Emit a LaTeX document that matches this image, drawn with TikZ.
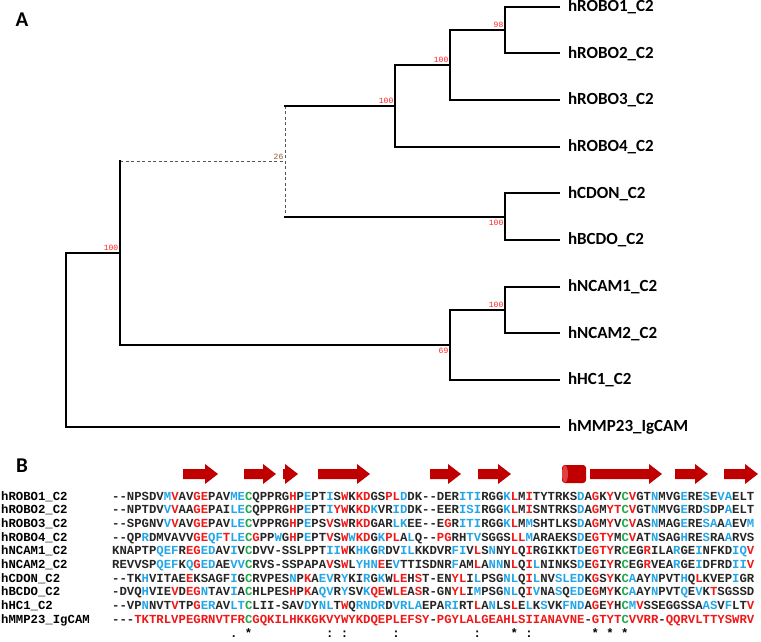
\documentclass[tikz,border=0pt]{standalone}
\usepackage{fontspec}
\setmonofont{Liberation Mono}
\newfontfamily\treefont{Carlito}
\usetikzlibrary{positioning}
\definecolor{SeqRed}{HTML}{F01818}
\definecolor{SeqBlue}{HTML}{22A6E8}
\definecolor{SeqGreen}{HTML}{1FAA4A}
\definecolor{SeqInk}{HTML}{262626}
\definecolor{Helix}{HTML}{C00000}
\definecolor{HelixCap}{HTML}{E04040}
\definecolor{Boot}{HTML}{FF2020}
\definecolor{Weak}{HTML}{8C5A2E}
\definecolor{DashGray}{HTML}{555555}
\newcommand\xR[1]{\textcolor{SeqRed}{#1}}
\newcommand\xB[1]{\textcolor{SeqBlue}{#1}}
\newcommand\xG[1]{\textcolor{SeqGreen}{#1}}

\begin{document}
\begin{tikzpicture}[x=1pt,y=-1pt,
    branch/.style={line width=1.8pt,line cap=rect},
    weak/.style={line width=1pt,draw=DashGray,dash pattern=on 3pt off 2.5pt},
    leaf/.style={anchor=west,inner xsep=9pt,inner ysep=0pt,outer sep=0pt,
      font=\treefont\bfseries\fontsize{17}{18}\selectfont},
    boot/.style={font=\ttfamily\fontsize{8}{8}\selectfont,text=Boot,inner sep=0.5pt},
    panel/.style={font=\treefont\bfseries\fontsize{21}{21}\selectfont},
    rowname/.style={anchor=base west,inner sep=0pt,
      font=\ttfamily\bfseries\fontsize{12.3}{13}\selectfont},
    seqline/.style={anchor=base west,inner sep=0pt,text=SeqInk,
      font=\ttfamily\bfseries\fontsize{12.3}{13}\selectfont},
    cons/.style={anchor=base,inner sep=0pt,
      font=\ttfamily\bfseries\fontsize{12.3}{13}\selectfont},
    sheet/.style={fill=Helix}
  ]
  \useasboundingbox (0,0) rectangle (761,641);

  % panel A: tree
  \node[panel] (pa) at (22,20) {A};
  \foreach \name/\y/\txt in {robo1/6.7/hROBO1\_C2,robo2/53.3/hROBO2\_C2,
      robo3/100/hROBO3\_C2,robo4/146.7/hROBO4\_C2,cdon/193.3/hCDON\_C2,
      bcdo/240/hBCDO\_C2,ncam1/286.7/hNCAM1\_C2,ncam2/333.3/hNCAM2\_C2,
      hc1/380/hHC1\_C2,mmp23/426.7/hMMP23\_IgCAM}
    \node[leaf] (\name) at (559,\y) {\txt};

  \coordinate (n12) at (505,30);
  \coordinate (n123) at (450,65);
  \coordinate (n1234) at (395,105.8);
  \coordinate (ncb) at (505,216.7);
  \coordinate (n26) at (285,161.3);
  \coordinate (nnc) at (505,310);
  \coordinate (nnh) at (450,345);
  \coordinate (na) at (120,253.2);
  \coordinate (root) at (66,340);

  \draw[branch] (n12) |- (robo1.west);
  \draw[branch] (n12) |- (robo2.west);
  \draw[branch] (n123) |- (n12);
  \draw[branch] (n123) |- (robo3.west);
  \draw[branch] (n1234) |- (n123);
  \draw[branch] (n1234) |- (robo4.west);
  \draw[branch] (ncb) |- (cdon.west);
  \draw[branch] (ncb) |- (bcdo.west);
  \draw[weak] (n1234 -| n26) -- (ncb -| n26);
  \draw[branch] (n1234 -| n26) -- (n1234);
  \draw[branch] (ncb -| n26) -- (ncb);
  \draw[branch] (nnc) |- (ncam1.west);
  \draw[branch] (nnc) |- (ncam2.west);
  \draw[branch] (nnh) |- (nnc);
  \draw[branch] (nnh) |- (hc1.west);
  \draw[weak] (n26 -| na) -- (n26);
  \draw[branch] (n26 -| na) -- (nnh -| na);
  \draw[branch] (nnh -| na) -- (nnh);
  \draw[branch] (root) |- (na);
  \draw[branch] (root) |- (mmp23.west);

  % bootstrap values
  \node[boot,anchor=south east] (b12) at ([shift={(-1,-1.5)}]n12) {98};
  \node[boot,anchor=south east] (b123) at ([shift={(-1,-1.5)}]n123) {100};
  \node[boot,anchor=south east] (b1234) at ([shift={(-1,-1.5)}]n1234) {100};
  \node[boot,anchor=south east,text=Weak] (b26) at ([shift={(-1,-1.5)}]n26) {26};
  \node[boot,anchor=north east] (bcb) at ([shift={(-1,2.5)}]ncb) {100};
  \node[boot,anchor=south east] (ba) at ([shift={(-1,-1.5)}]na) {100};
  \node[boot,anchor=south east] (bnc) at ([shift={(-1,-1.5)}]nnc) {100};
  \node[boot,anchor=north east] (bnh) at ([shift={(-1,2.5)}]nnh) {69};

  % panel B: alignment
  \node[panel] (pb) at (22,466) {B};
  \foreach \a/\b in {183/218,244/276,283/298,318/370,430/461,478/511,590/662,675/708,724/758}
    \fill[sheet] (\a,469) -- ({\b-13},469) -- ({\b-13},464) -- (\b,474)
      -- ({\b-13},484) -- ({\b-13},479) -- (\a,479) -- cycle;
  \fill[Helix,rounded corners=3pt] (562,465) rectangle (586,483);
  \fill[HelixCap] (565,474) ellipse (3 and 8.5);

  \foreach \i/\lab/\seq in {
      0/hROBO1\_C2/{--NPSDV\xB{M}\xR{V}AV\xR{GE}PAV\xB{ME}\xG{C}QPPRG\xR{H}P\xB{E}PT\xB{I}S\xR{W}K\xR{KD}GS\xR{PL}\xB{D}DK--DER\xB{ITI}RGG\xB{K}\xR{L}M\xR{I}TYTRKS\xB{D}A\xR{G}K\xR{Y}V\xG{C}\xR{V}GT\xB{N}MVG\xB{E}RE\xB{S}E\xB{VA}ELT},
      1/hROBO2\_C2/{--NPTDV\xB{V}\xR{V}AA\xR{GE}PAI\xB{LE}\xG{C}QPPRG\xR{H}P\xB{E}PT\xB{I}\xR{YW}K\xR{KD}\xB{K}VR\xB{ID}DK--EER\xB{ISI}RGG\xB{K}\xR{L}M\xR{I}SNTRKS\xB{D}A\xR{G}M\xR{YT}\xG{C}\xR{V}GT\xB{N}MVG\xB{E}RD\xB{S}DP\xB{A}ELT},
      2/hROBO3\_C2/{--SPGNV\xB{V}\xR{V}AV\xR{GE}PAV\xB{LE}\xG{C}VPPRG\xR{H}P\xB{E}PS\xR{V}S\xR{W}R\xR{KD}GAR\xB{LK}EE--E\xR{G}R\xB{ITI}RGG\xB{K}\xR{L}M\xB{M}SHTLKS\xB{D}A\xR{G}M\xR{Y}V\xG{C}\xR{V}AS\xB{N}MAG\xB{E}RE\xB{SA}A\xB{A}EV\xB{M}},
      3/hROBO4\_C2/{--QP\xB{R}DMVAVV\xR{GE}\xB{QF}\xR{T}\xB{LE}\xG{C}\xR{G}PP\xB{W}G\xR{H}P\xB{E}PT\xR{V}S\xR{W}\xB{W}\xR{KD}G\xB{K}\xR{PL}A\xB{L}Q--\xR{PG}RH\xB{TV}SGGS\xR{LL}\xB{M}ARAEKS\xB{D}E\xR{GTY}M\xG{C}\xR{V}AT\xB{N}SAG\xB{H}RE\xB{S}RA\xB{A}RVS},
      4/hNCAM1\_C2/{KNAPTP\xB{QEF}R\xR{EG}\xB{ED}AV\xB{I}V\xG{C}DVV-SSLPPT\xB{II}\xR{W}K\xB{HK}G\xB{R}DV\xB{IL}KKDVR\xB{FI}V\xR{L}S\xB{N}NY\xR{L}Q\xR{I}RGIKKT\xB{D}E\xR{GTY}R\xG{C}EG\xR{R}ILA\xB{R}GE\xB{I}NFKD\xB{IQ}\xR{V}},
      5/hNCAM2\_C2/{REVVSP\xB{QEF}K\xB{Q}\xR{G}\xB{ED}AE\xB{VV}\xG{C}RVS-SSPAPA\xR{V}S\xR{W}L\xB{YHN}\xR{E}E\xB{V}TTISDNR\xB{F}AM\xR{L}A\xB{NN}N\xR{L}Q\xR{I}\xB{L}NINKS\xB{D}E\xR{G}I\xR{Y}R\xG{C}EG\xR{R}VEA\xB{R}GE\xB{I}DFRD\xB{II}\xR{V}},
      6/hCDON\_C2/{--TK\xB{H}VITAE\xR{E}KSAGF\xB{I}G\xG{C}RVPES\xB{N}P\xR{K}A\xB{EV}R\xB{Y}KI\xB{R}G\xB{K}W\xR{LE}H\xR{S}T-EN\xR{YL}I\xB{L}PSG\xB{NL}Q\xR{I}\xB{L}NV\xB{SLED}K\xR{G}S\xR{Y}K\xG{C}\xB{A}AY\xB{N}PVT\xB{H}Q\xR{L}KVEP\xB{I}GR},
      7/hBCDO\_C2/{-DVQ\xB{H}VIE\xR{V}D\xR{EG}\xB{N}TAV\xB{I}A\xG{C}HLPES\xR{H}P\xR{K}A\xB{QV}R\xB{Y}SV\xB{K}\xR{QE}W\xR{LE}A\xR{S}R-GN\xR{YL}I\xB{M}PSG\xB{NL}Q\xR{I}\xB{V}NA\xB{S}Q\xB{ED}E\xR{G}M\xR{Y}K\xG{C}\xB{A}AY\xB{N}PVT\xB{Q}E\xB{V}K\xR{T}SGSSD},
      8/hHC1\_C2/{--VP\xB{N}NVT\xR{V}TP\xR{G}\xB{ER}AV\xB{LT}\xG{C}LII-SAV\xB{D}Y\xB{NL}T\xR{W}Q\xB{RNDR}D\xB{VRLA}EPA\xB{RI}RT\xR{L}A\xB{N}LS\xR{L}E\xB{L}K\xB{S}VK\xB{FND}A\xR{G}E\xR{Y}H\xG{C}\xB{M}\xR{V}SSEGGSSA\xB{AS}V\xB{F}LT\xR{V}},
      9/hMMP23\_IgCAM/{---\xR{TKTRLVPEGRNVTFR}\xG{C}\xR{GQKILHKKGKVYWYKDQEPLEFSY}-\xR{PGYLALGEAHLSIIANAVNE}-\xR{GTYT}\xG{C}\xR{VVRR}-\xR{QQRVLTTYSWRV}}}
  {
    \node[rowname] (lab\i) at (1,{500+13.7*\i}) {\lab};
    \node[seqline] (seq\i) at (112,{500+13.7*\i}) {\seq};
  }

  % conservation line
  \foreach \c/\s in {17/.,19/*,30/:,32/:,39/:,50/:,55/*,57/:,66/*,68/*,70/*}
    \node[cons] (c\c) at ({112+(\c-0.5)*7.38},637.5) {\s};
\end{tikzpicture}
\end{document}
